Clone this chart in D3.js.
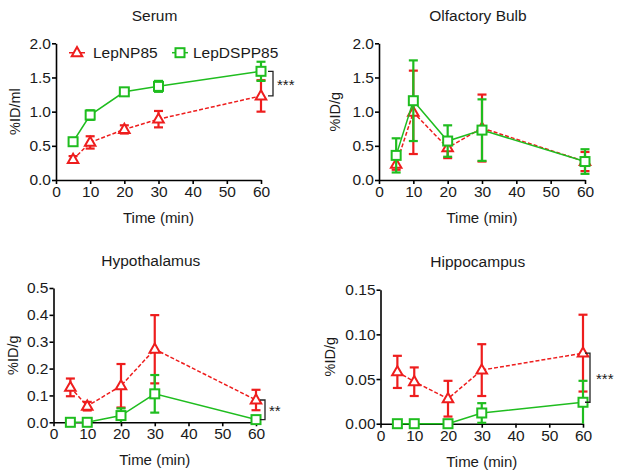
<!DOCTYPE html>
<html><head><meta charset="utf-8">
<script src="https://cdn.jsdelivr.net/npm/d3@7"></script>
<style>
body{margin:0;background:#fff;}
svg{display:block;font-family:"Liberation Sans",Arial,sans-serif;}
</style></head>
<body><svg id="c" width="624" height="476"></svg>
<script>
const times = [5, 10, 20, 30, 60];
const xTicks = [0, 10, 20, 30, 40, 50, 60];
const seriesNames = ["LepNP85", "LepDSPP85"];

// Serum
const serumNP = [0.30, 0.55, 0.74, 0.89, 1.23];
const serumNPErr = [0.05, 0.09, 0.06, 0.12, 0.23];
const serumDS = [0.56, 0.95, 1.29, 1.37, 1.59];
const serumDSErr = [0.03, 0.07, 0.04, 0.08, 0.14];
const serumTicks = [0.0, 0.5, 1.0, 1.5, 2.0];

// Olfactory bulb
const olfNP = [0.23, 0.99, 0.47, 0.76, 0.27];
const olfNPErr = [0.08, 0.61, 0.15, 0.49, 0.14];
const olfDS = [0.36, 1.16, 0.57, 0.73, 0.27];
const olfDSErr = [0.25, 0.59, 0.23, 0.45, 0.18];
const olfTicks = [0.0, 0.5, 1.0, 1.5, 2.0];

// Hypothalamus
const hypNP = [0.130, 0.060, 0.136, 0.272, 0.083];
const hypNPErr = [0.033, 0.016, 0.081, 0.127, 0.038];
const hypDS = [0.0, 0.0, 0.025, 0.106, 0.010];
const hypDSErr = [0.0, 0.0, 0.027, 0.070, 0.003];
const hypTicks = [0.0, 0.1, 0.2, 0.3, 0.4, 0.5];

// Hippocampus
const hipNP = [0.058, 0.047, 0.028, 0.060, 0.079];
const hipNPErr = [0.018, 0.016, 0.020, 0.029, 0.043];
const hipDS = [0.0, 0.0, 0.0, 0.012, 0.024];
const hipDSErr = [0.0, 0.0, 0.0, 0.011, 0.024];
const hipTicks = [0.00, 0.05, 0.10, 0.15];

const RED = "#ee1d1d", GREEN = "#1fbd1f", INK = "#1a1a1a";
const svg = d3.select("#c");

const panels = [
  {title:"Serum", ylab:"%ID/ml", np:serumNP, npE:serumNPErr, ds:serumDS, dsE:serumDSErr,
   ticks:serumTicks, fmt:d3.format(".1f"), x0:56, x1:261, yb:180, yt:43.3, tY:21, labX:15, legend:true,
   sig:"***", bx:[7,12], sx:16},
  {title:"Olfactory Bulb", ylab:"%ID/g", np:olfNP, npE:olfNPErr, ds:olfDS, dsE:olfDSErr,
   ticks:olfTicks, fmt:d3.format(".1f"), x0:379, x1:585, yb:180, yt:43.3, tY:21, labX:335},
  {title:"Hypothalamus", ylab:"%ID/g", np:hypNP, npE:hypNPErr, ds:hypDS, dsE:hypDSErr,
   ticks:hypTicks, fmt:d3.format(".1f"), x0:53.5, x1:256, yb:422.3, yt:288, tY:266, labX:13,
   sig:"**", bx:[4,9], sx:13},
  {title:"Hippocampus", ylab:"%ID/g", np:hipNP, npE:hipNPErr, ds:hipDS, dsE:hipDSErr,
   ticks:hipTicks, fmt:d3.format(".2f"), x0:380.5, x1:583, yb:423.7, yt:289.7, tY:267, labX:330,
   sig:"***", bx:[2,7], sx:13}
];

const triPath = s => { const h = s*0.866; return `M0,${-h*0.62}L${s/2},${h*0.38}L${-s/2},${h*0.38}Z`; };
const CAP = 4.5;

function drawSeries(g, x, y, vals, errs, color, isNP) {
  const line = d3.line().x((d,i)=>x(times[i])).y(d=>y(d));
  g.append("path").attr("d", line(vals)).attr("fill","none").attr("stroke",color)
    .attr("stroke-width",1.5).attr("stroke-dasharray", isNP ? "4,2" : null);
  const eb = g.append("g").attr("stroke", color).attr("stroke-width", 2.2);
  vals.forEach((v,i)=>{
    const e = errs[i]; if (e <= 0) return;
    const cx = x(times[i]);
    const lo = Math.max(0, v - e), hi = v + e;
    eb.append("line").attr("x1",cx).attr("x2",cx).attr("y1",y(lo)).attr("y2",y(hi));
    eb.append("line").attr("x1",cx-CAP).attr("x2",cx+CAP).attr("y1",y(hi)).attr("y2",y(hi));
    if (v - e > 0) eb.append("line").attr("x1",cx-CAP).attr("x2",cx+CAP).attr("y1",y(lo)).attr("y2",y(lo));
  });
  vals.forEach((v,i)=>{
    const cx = x(times[i]), cy = y(v);
    if (isNP) g.append("path").attr("d", triPath(10.5)).attr("transform",`translate(${cx},${cy})`)
      .attr("fill","#fff").attr("stroke",color).attr("stroke-width",2);
    else g.append("rect").attr("x",cx-4.5).attr("y",cy-4.5).attr("width",9).attr("height",9)
      .attr("fill","#fff").attr("stroke",color).attr("stroke-width",2);
  });
}

panels.forEach(p=>{
  const x = d3.scaleLinear().domain([0,60]).range([p.x0, p.x1]);
  const y = d3.scaleLinear().domain([0, p.ticks[p.ticks.length-1]]).range([p.yb, p.yt]);
  const g = svg.append("g");
  const xa = g.append("g").attr("transform",`translate(0,${p.yb})`)
    .call(d3.axisBottom(x).tickValues(xTicks).tickSize(4).tickPadding(2).tickSizeOuter(0));
  const ya = g.append("g").attr("transform",`translate(${p.x0},0)`)
    .call(d3.axisLeft(y).tickValues(p.ticks).tickFormat(p.fmt).tickSize(4).tickPadding(1).tickSizeOuter(0));
  [xa, ya].forEach(a=>{
    a.select(".domain").attr("stroke","#000").attr("stroke-width",1.6);
    a.selectAll(".tick line").attr("stroke","#000").attr("stroke-width",1.6);
    a.selectAll(".tick text").attr("fill",INK).style("font-size","15.5px")
      .style("font-family","'Liberation Sans',Arial,sans-serif");
  });
  g.append("text").attr("x",(p.x0+p.x1)/2 - 4).attr("y",p.tY).attr("text-anchor","middle")
    .style("font-size","15.5px").attr("fill",INK).text(p.title);
  g.append("text").attr("x",(p.x0+p.x1)/2).attr("y",p.yb+43).attr("text-anchor","middle")
    .style("font-size","15px").attr("fill",INK).text("Time (min)");
  g.append("text").attr("transform",`translate(${p.labX + 5},${(p.yb+p.yt)/2}) rotate(-90)`)
    .attr("text-anchor","middle").style("font-size","14.5px").attr("fill",INK).text(p.ylab);

  drawSeries(g, x, y, p.np, p.npE, RED, true);
  drawSeries(g, x, y, p.ds, p.dsE, GREEN, false);

  if (p.sig) {
    const xa0 = x(60) + p.bx[0], xa1 = x(60) + p.bx[1];
    const yA = y(p.np[4]), yB = y(p.ds[4]);
    g.append("path").attr("d",`M${xa0},${yA}H${xa1}V${yB}H${xa0}`).attr("fill","none")
      .attr("stroke","#222").attr("stroke-width",1.3);
    g.append("text").attr("x", x(60)+p.sx).attr("y",(yA+yB)/2 + 6).style("font-size","15px")
      .attr("fill",INK).text(p.sig);
  }

  if (p.legend) {
    const ly = 52.7;
    const items = [{name:seriesNames[0], c:RED, np:true, sx:77, tx:93},
                   {name:seriesNames[1], c:GREEN, np:false, sx:180, tx:193}];
    items.forEach(it=>{
      g.append("line").attr("x1",it.sx-8).attr("x2",it.sx+8).attr("y1",ly).attr("y2",ly)
        .attr("stroke",it.c).attr("stroke-width",1.5).attr("stroke-dasharray", it.np?"4,2":null);
      if (it.np) g.append("path").attr("d",triPath(10.5)).attr("transform",`translate(${it.sx},${ly})`)
        .attr("fill","#fff").attr("stroke",it.c).attr("stroke-width",2);
      else g.append("rect").attr("x",it.sx-4.5).attr("y",ly-4.5).attr("width",9).attr("height",9)
        .attr("fill","#fff").attr("stroke",it.c).attr("stroke-width",2);
      g.append("text").attr("x",it.tx).attr("y",ly+5.5).style("font-size","15.5px").attr("fill",INK).text(it.name);
    });
  }
});
</script></body></html>
